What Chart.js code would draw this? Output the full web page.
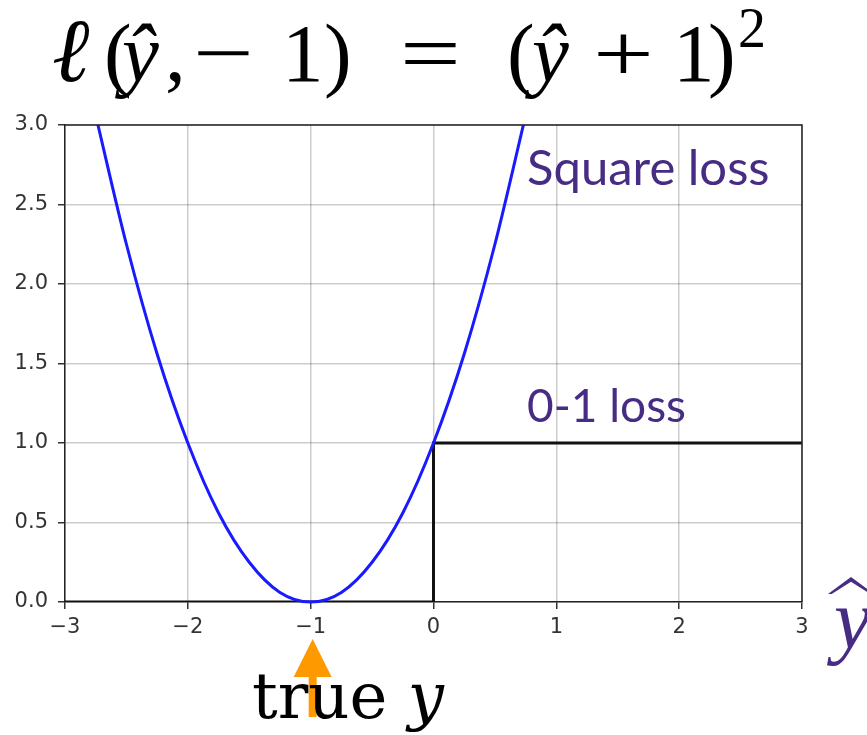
<!DOCTYPE html>
<html lang="en">
<head>
    <meta charset="UTF-8">
    <title>Square loss vs 0-1 loss</title>
    <script src="https://cdn.jsdelivr.net/npm/chart.js"></script>
    <style>
        body {
            margin: 0;
            padding: 0;
            background: #ffffff;
            width: 867px;
            height: 735px;
            overflow: hidden;
        }
        .wrap {
            position: relative;
            width: 867px;
            height: 735px;
            overflow: hidden;
        }
        canvas {
            position: absolute;
            left: 0;
            top: 0;
        }
        .txt {
            position: absolute;
            white-space: pre;
            line-height: 1;
        }
        .eq {
            top: 12px;
            font-family: "Liberation Serif", serif;
            font-size: 83px;
            color: #000;
        }
        .eq.it { font-style: italic; }
        .eq.ell { font-size: 90px; top: 6px; }
        .eq.wide { transform: scaleX(1.3); transform-origin: left top; }
        .eq.sup { top: 0px; font-size: 56px; }
        .note {
            font-family: Lato, "Open Sans", sans-serif;
            font-size: 49px;
            color: #472c83;
        }
        #sqLabel { left: 527px; top: 142px; }
        #zoLabel { left: 527px; top: 382px; font-size: 46px; }
        #yhat {
            left: 834px;
            top: 578px;
            font-family: "Liberation Serif", serif;
            font-style: italic;
            font-size: 84px;
            color: #472c83;
        }
        #yhatCap {
            position: absolute;
            left: 828px;
            top: 577px;
            width: 46px;
            height: 17px;
            background: #472c83;
            clip-path: polygon(0% 100%, 50% 0%, 100% 100%, 92% 100%, 50% 28%, 8% 100%);
        }
        #trueY {
            left: 252px;
            top: 664px;
            font-family: "DejaVu Serif", serif;
            font-size: 64px;
            color: #000;
        }
        #trueY i { font-style: italic; }
    </style>
</head>
<body>
<div class="wrap">
    <canvas id="chart" width="867" height="735"></canvas>
    <span class="txt eq it ell" style="left:52px">ℓ</span>
    <span class="txt eq" style="left:104px">(</span>
    <span class="txt eq it" style="left:122px">ŷ</span>
    <span class="txt eq" style="left:165px">,</span>
    <span class="txt eq wide" style="left:193px">−</span>
    <span class="txt eq" style="left:282px">1</span>
    <span class="txt eq" style="left:324px">)</span>
    <span class="txt eq wide" style="left:400px">=</span>
    <span class="txt eq" style="left:507px">(</span>
    <span class="txt eq it" style="left:532px">ŷ</span>
    <span class="txt eq wide" style="left:593px">+</span>
    <span class="txt eq" style="left:673px">1</span>
    <span class="txt eq" style="left:708px">)</span>
    <span class="txt eq sup" style="left:738px">2</span>
    <div id="sqLabel" class="txt note">Square loss</div>
    <div id="zoLabel" class="txt note">0-1 loss</div>
    <div id="yhatCap"></div>
    <div id="yhat" class="txt">y</div>
    <div id="trueY" class="txt">true <i>y</i></div>
</div>

<script>
    // square loss (blue curve), sampled along y-hat
    const sqX = [-2.75, -2.5, -2.25, -2.0, -1.75, -1.5, -1.25, -1.0, -0.75, -0.5, -0.25, 0.0, 0.25, 0.5, 0.75];
    const sqY = [3.06, 2.25, 1.56, 1.0, 0.56, 0.25, 0.06, 0.0, 0.06, 0.25, 0.56, 1.0, 1.56, 2.25, 3.06];

    // 0-1 loss (black step)
    const stepX = [-3, 0, 0, 3];
    const stepY = [0, 0, 1, 1];

    // axis ticks
    const xTicks = [-3, -2, -1, 0, 1, 2, 3];
    const yTicks = [0.0, 0.5, 1.0, 1.5, 2.0, 2.5, 3.0];

    // where the true label sits on the x axis
    const trueY = -1;

    const toPoints = (xs, ys) => xs.map((x, i) => ({ x: x, y: ys[i] }));

    // frame on top/right edges and the orange arrow under the x axis
    const extras = {
        id: 'extras',
        afterDatasetsDraw(chart) {
            const ctx = chart.ctx;
            const a = chart.chartArea;
            ctx.save();
            ctx.strokeStyle = '#222';
            ctx.lineWidth = 1.5;
            ctx.beginPath();
            ctx.moveTo(a.left, a.top);
            ctx.lineTo(a.right, a.top);
            ctx.lineTo(a.right, a.bottom);
            ctx.stroke();
            ctx.restore();
        },
        afterDraw(chart) {
            const ctx = chart.ctx;
            const x = chart.scales.x.getPixelForValue(trueY) + 2;
            const base = chart.chartArea.bottom;
            ctx.save();
            ctx.fillStyle = '#ff9900';
            ctx.beginPath();
            ctx.moveTo(x, base + 37);
            ctx.lineTo(x + 19, base + 75);
            ctx.lineTo(x + 4, base + 75);
            ctx.lineTo(x + 4, base + 115);
            ctx.lineTo(x - 4, base + 115);
            ctx.lineTo(x - 4, base + 75);
            ctx.lineTo(x - 19, base + 75);
            ctx.closePath();
            ctx.fill();
            ctx.restore();
        }
    };

    const tickFont = { family: 'DejaVu Sans', size: 21 };

    new Chart(document.getElementById('chart').getContext('2d'), {
        type: 'scatter',
        data: {
            datasets: [
                {
                    label: 'Square loss',
                    data: toPoints(sqX, sqY),
                    showLine: true,
                    borderColor: '#1a1aff',
                    borderWidth: 3,
                    pointRadius: 0,
                    cubicInterpolationMode: 'monotone',
                    clip: { left: 2, right: 2, top: 0, bottom: 3 }
                },
                {
                    label: '0-1 loss',
                    data: toPoints(stepX, stepY),
                    showLine: true,
                    borderColor: '#111',
                    borderWidth: 3,
                    pointRadius: 0,
                    tension: 0
                }
            ]
        },
        options: {
            responsive: false,
            animation: false,
            devicePixelRatio: 1,
            layout: { padding: { top: 125, right: 65, left: 0, bottom: 0 } },
            plugins: {
                legend: { display: false },
                tooltip: { enabled: false }
            },
            scales: {
                x: {
                    type: 'linear',
                    min: -3,
                    max: 3,
                    afterFit: s => { s.height = 133; },
                    afterBuildTicks: s => { s.ticks = xTicks.map(v => ({ value: v })); },
                    ticks: {
                        font: tickFont,
                        color: '#333',
                        padding: 6,
                        callback: v => String(v).replace('-', '\u2212')
                    },
                    grid: {
                        color: 'rgba(0,0,0,0.2)',
                        lineWidth: 1.5,
                        tickColor: '#333',
                        tickLength: 7
                    },
                    border: { color: '#222', width: 1.5 }
                },
                y: {
                    type: 'linear',
                    min: 0,
                    max: 3,
                    afterFit: s => { s.width = 65; },
                    afterBuildTicks: s => { s.ticks = yTicks.map(v => ({ value: v })); },
                    ticks: {
                        font: tickFont,
                        color: '#333',
                        padding: 10,
                        callback: v => v.toFixed(1)
                    },
                    grid: {
                        color: 'rgba(0,0,0,0.2)',
                        lineWidth: 1.5,
                        tickColor: '#333',
                        tickLength: 7
                    },
                    border: { color: '#222', width: 1.5 }
                }
            }
        },
        plugins: [extras]
    });
</script>
</body>
</html>
